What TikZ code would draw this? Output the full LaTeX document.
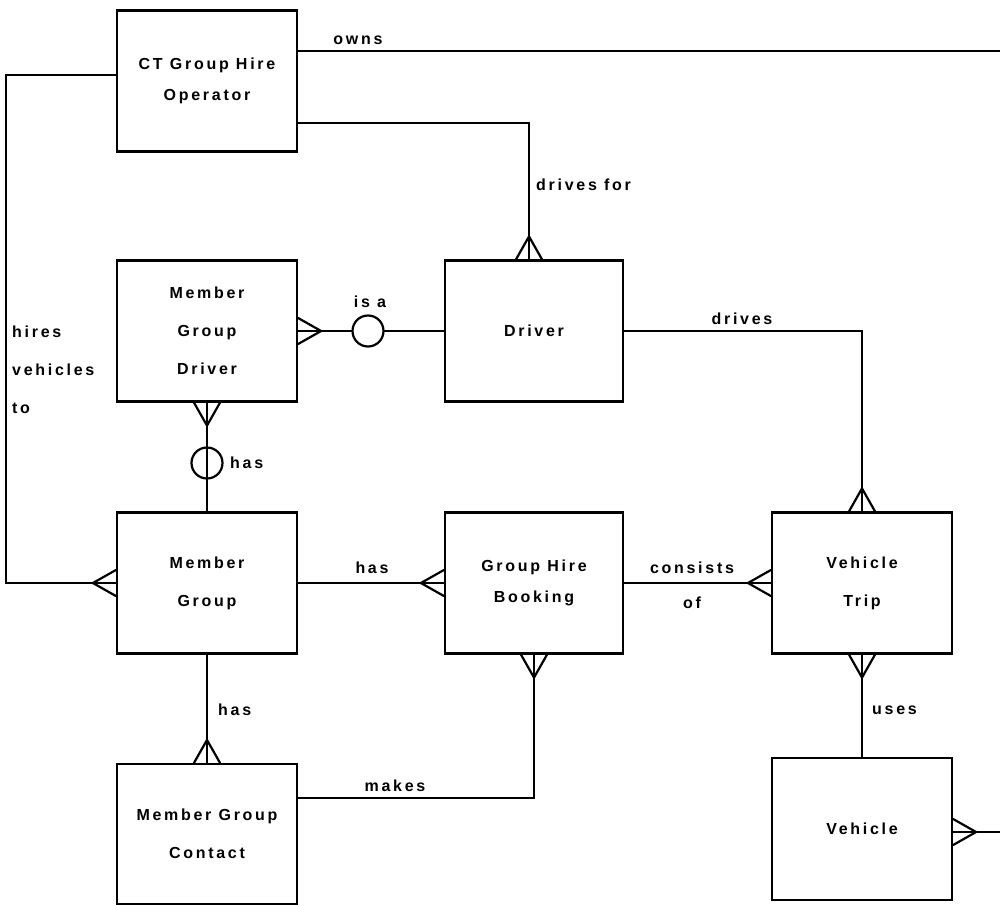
\documentclass[tikz,border=0pt]{standalone}
\usepackage{fontspec}
\newfontfamily\erfont[LetterSpace=17]{Liberation Sans}
\newcommand\entf{\erfont\bfseries\fontsize{16}{38}\selectfont}
\newcommand\entfs{\erfont\bfseries\fontsize{16}{30.5}\selectfont}
\newcommand\relf{\erfont\bfseries\fontsize{16}{35}\selectfont}
\tikzset{
  rel/.style={line width=2.2pt, line cap=round, line join=miter},
  ent/.style={draw, line width=2.2pt, minimum width=180pt, minimum height=141pt,
              align=center, font=\entf, inner sep=0pt},
  lbl/.style={font=\relf, inner sep=0pt, align=center},
  opt/.style={draw, circle, line width=2.2pt, minimum size=31pt, inner sep=0pt, fill=white},
}
\newcommand\crowfoot[2]{%
  \draw[rel] ([shift={(#2:23)}]#1) -- ([shift={(#2+90:13)}]#1)
             ([shift={(#2:23)}]#1) -- ([shift={(#2-90:13)}]#1);}
\begin{document}
\begin{tikzpicture}[x=1pt,y=-1pt]
\fill[white] (0,0) rectangle (1000,905);
\useasboundingbox (0,0) rectangle (1000,905);

% entities
\node[ent, font=\entfs] (ct)  at (207,81)  {CT Group Hire\\Operator};
\node[ent] (mgd) at (207,331) {Member\\Group\\Driver};
\node[ent, minimum width=178pt] (drv) at (534,331) {Driver};
\node[ent] (mg)  at (207,583) {Member\\Group};
\node[ent, minimum width=178pt, font=\entfs] (ghb) at (534,583) {Group Hire\\Booking};
\node[ent] (vt)  at (862,583) {Vehicle\\Trip};
\node[ent, minimum height=140pt] (mgc) at (207,834) {Member Group\\Contact};
\node[ent, minimum height=142pt] (veh) at (862,829) {Vehicle};

% free ends and attachment points
\coordinate (ownsend) at (1000,51);
\coordinate (vehend) at (1000,832);
\coordinate (dfoot) at ([xshift=-5pt]drv.north);
\coordinate (vfoot) at ([yshift=-3pt]veh.east);

% relationships
\draw[rel] ([yshift=30pt]ct.east) -- (ownsend);
\draw[rel] ([yshift=-42pt]ct.east) -| (dfoot);
\crowfoot{dfoot}{270}
\draw[rel] ([yshift=6pt]ct.west) -- ++(-110,0) |- (mg.west);
\crowfoot{mg.west}{180}

\node[opt] (isa) at (368,331) {};
\draw[rel] (mgd.east) -- (isa) -- (drv.west);
\crowfoot{mgd.east}{0}

\draw[rel] (drv.east) -| (vt.north);
\crowfoot{vt.north}{270}

\draw[rel] (mgd.south) -- (mg.north);
\node[opt, fill=none] (hasc) at (207,463) {};
\crowfoot{mgd.south}{90}

\draw[rel] (mg.east) -- (ghb.west);
\crowfoot{ghb.west}{180}

\draw[rel] (ghb.east) -- (vt.west);
\crowfoot{vt.west}{180}

\draw[rel] (mg.south) -- (mgc.north);
\crowfoot{mgc.north}{270}

\draw[rel] ([yshift=36pt]mgc.east) -| (ghb.south);
\crowfoot{ghb.south}{90}

\draw[rel] (vt.south) -- (veh.north);
\crowfoot{vt.south}{90}

\draw[rel] (vfoot) -- (vehend);
\crowfoot{vfoot}{0}

% labels
\node[lbl] (l1) at (358,40) {owns};
\node[lbl, anchor=west] (l2) at (536,185) {drives for};
\node[lbl, anchor=west, align=left, font=\entf] (l3) at (12,370) {hires\\vehicles\\to};
\node[lbl] (l4) at (370,302) {is a};
\node[lbl, anchor=west] (l5) at (230,463) {has};
\node[lbl] (l6) at (742,319) {drives};
\node[lbl] (l7) at (372,568) {has};
\node[lbl] (l8) at (692,585) {consists\\of};
\node[lbl, anchor=west] (l9) at (218,710) {has};
\node[lbl] (l10) at (395,786) {makes};
\node[lbl, anchor=west] (l11) at (872,710) {uses};
\end{tikzpicture}
\end{document}
